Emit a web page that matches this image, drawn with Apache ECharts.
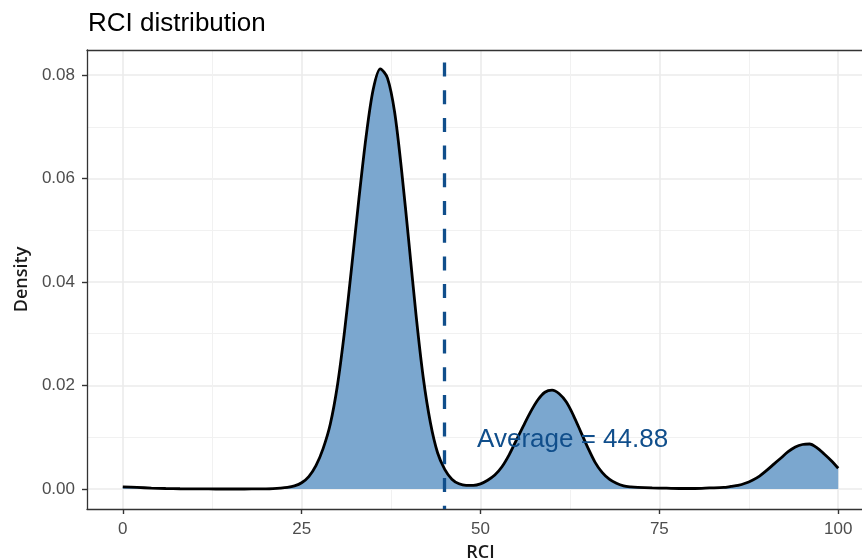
<!DOCTYPE html>
<html>
<head>
<meta charset="utf-8">
<script src="https://cdn.jsdelivr.net/npm/echarts@6/dist/echarts.min.js"></script>
<style>
  html, body { margin: 0; padding: 0; background: #fff; }
  #chart { width: 862px; height: 559px; }
</style>
</head>
<body>
<div id="chart"></div>
<script>
// RCI values and estimated kernel density
const rci = [0, 2, 4, 6, 8, 10, 12, 14, 16, 18, 20, 21, 22, 23, 24, 25, 26, 27, 28, 29,
  30, 31, 32, 33, 34, 35, 36, 37, 38, 39, 40, 41, 42, 43, 44, 45, 46, 47, 48, 49,
  50, 51, 52, 53, 54, 55, 56, 57, 58, 59, 60, 61, 62, 63, 64, 65, 66, 67, 68, 69,
  70, 71, 72, 74, 76, 78, 80, 82, 84, 85, 86, 87, 88, 89, 90, 91, 92, 93, 94, 95,
  96, 97, 98, 99, 100]
const density = [0.0004, 0.0003, 0.00018, 0.0001, 0.00005, 0.00002, 0.00001, 0, 0, 0.00001,
  0.00004, 0.00008, 0.00016, 0.0003, 0.0006, 0.0012, 0.0024, 0.0045, 0.0078, 0.0125,
  0.0200, 0.0305, 0.0430, 0.0560, 0.0680, 0.0772, 0.0812, 0.0794, 0.0728, 0.0612,
  0.0475, 0.0335, 0.0215, 0.0128, 0.0070, 0.0038, 0.0019, 0.0010, 0.0007, 0.0007,
  0.0010, 0.0017, 0.0027, 0.0043, 0.0066, 0.0094, 0.0122, 0.0149, 0.0172, 0.0187,
  0.0191, 0.0184, 0.0168, 0.0142, 0.0111, 0.0080, 0.0052, 0.0032, 0.0019, 0.0011,
  0.0006, 0.0004, 0.0003, 0.0002, 0.00015, 0.0001, 0.0001, 0.0002, 0.0003, 0.0005,
  0.0007, 0.0011, 0.0017, 0.0025, 0.0036, 0.0048, 0.0060, 0.0072, 0.0081, 0.0086,
  0.0087, 0.0080, 0.0068, 0.0055, 0.0040]

const average = 44.88
const labelAt = [62.88, 0.01]

const xMajor = [0, 25, 50, 75, 100]
const xMinor = [12.5, 37.5, 62.5, 87.5]
const yMajor = [0, 0.02, 0.04, 0.06, 0.08]
const yMinor = [0.01, 0.03, 0.05, 0.07]

const chart = echarts.init(document.getElementById("chart"), null, { renderer: "canvas" })

const tickLabel = { color: "#4d4d4d", fontSize: 17, fontFamily: "Liberation Sans" }
const nameStyle = { color: "#1a1a1a", fontSize: 18, fontWeight: 600, fontFamily: "Open Sans" }
const majorGrid = { lineStyle: { color: "#ebebeb", width: 1.6 } }
const minorGrid = { lineStyle: { color: "#f1f1f1", width: 1 } }
const borderLine = { show: true, onZero: false, lineStyle: { color: "#333", width: 1.3 } }
const tickStyle = { show: true, inside: false, length: 5, lineStyle: { color: "#333", width: 1.4 } }

chart.setOption({
  animation: false,
  backgroundColor: "#fff",
  title: {
    text: "RCI distribution",
    left: 88,
    top: 11,
    padding: 0,
    textStyle: { color: "#000", fontSize: 26, fontWeight: "normal", fontFamily: "Liberation Sans" },
  },
  grid: {
    left: 87, right: -12, top: 50, bottom: 50,
    outerBoundsMode: "none",
    containLabel: false,
    show: false,
  },
  xAxis: [
    {
      type: "value", min: -5, max: 105,
      name: "RCI", nameLocation: "middle", nameGap: 35, nameTextStyle: nameStyle,
      axisLine: borderLine,
      axisTick: { ...tickStyle, customValues: xMajor },
      axisLabel: { ...tickLabel, margin: 12, customValues: xMajor },
      splitLine: { show: true, ...majorGrid },
    },
    {
      type: "value", min: -5, max: 105, position: "top",
      axisLine: borderLine, axisLabel: { show: false },
      axisTick: { show: false, customValues: xMinor },
      splitLine: { show: true, ...minorGrid },
    },
  ],
  yAxis: [
    {
      type: "value", min: -0.003865, max: 0.084831,
      name: "Density", nameLocation: "middle", nameGap: 53, nameTextStyle: nameStyle,
      axisLine: borderLine,
      axisTick: { ...tickStyle, customValues: yMajor },
      axisLabel: { ...tickLabel, margin: 12, customValues: yMajor, formatter: (v) => v.toFixed(2) },
      splitLine: { show: true, ...majorGrid },
    },
    {
      type: "value", min: -0.003865, max: 0.084831, position: "right",
      axisLine: { show: false }, axisLabel: { show: false },
      axisTick: { show: false, customValues: yMinor },
      splitLine: { show: true, ...minorGrid },
    },
  ],
  series: [
    {
      type: "line",
      data: rci.map((x, i) => [x, density[i]]),
      smooth: 0.3,
      showSymbol: false,
      silent: true,
      z: 3,
      lineStyle: { color: "#000", width: 2.8 },
      areaStyle: { color: "#7ba7cf", opacity: 1, origin: 0 },
      markLine: {
        silent: true,
        symbol: ["none", "none"],
        label: { show: false },
        lineStyle: { color: "#104e8b", width: 3.3, type: [14, 13.7], dashOffset: 10.7 },
        data: [{ xAxis: average }],
      },
      markPoint: {
        silent: true,
        symbol: "circle",
        symbolSize: 1,
        itemStyle: { color: "rgba(0,0,0,0)" },
        label: {
          show: true, position: "inside", offset: [0, 3],
          formatter: "Average = " + average,
          color: "#104e8b", fontSize: 26, fontFamily: "Liberation Sans",
        },
        data: [{ coord: labelAt }],
      },
    },
  ],
})
</script>
</body>
</html>
